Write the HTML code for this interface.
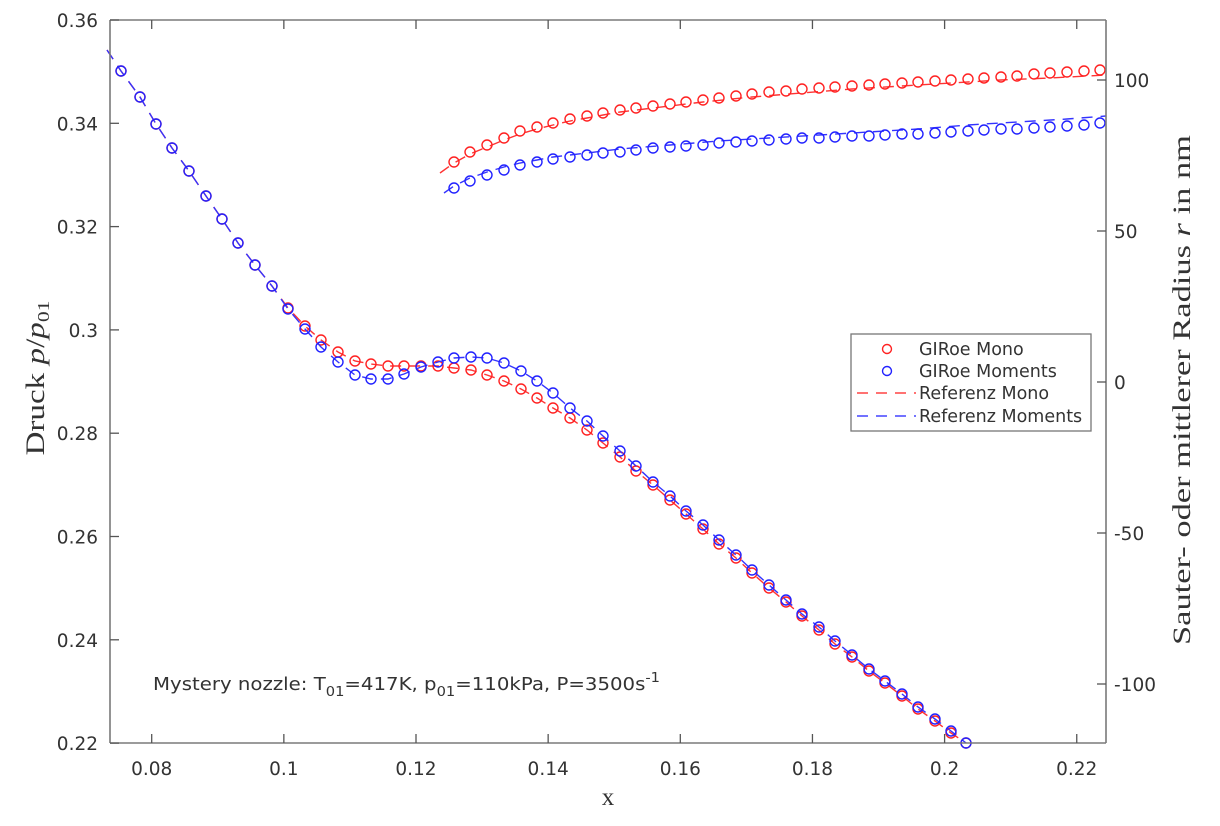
<!DOCTYPE html>
<html><head><meta charset="utf-8"><style>
body{margin:0;background:#fff;}
svg text{font-family:"DejaVu Sans","Liberation Sans",sans-serif;fill:#333;}
.serif{font-family:"Liberation Serif","DejaVu Serif",serif !important;}
</style></head><body>
<svg id="s" width="1220" height="821" xmlns="http://www.w3.org/2000/svg">
<rect width="1220" height="821" fill="#fff"/>
<g id="data"></g>
<g stroke="#7a7a7a" stroke-width="1.6" fill="none">
<line x1="110" y1="20" x2="110" y2="743"/>
<line x1="110" y1="743" x2="1106" y2="743"/>
<line x1="110" y1="20" x2="1106" y2="20"/>
<line x1="1106" y1="20" x2="1106" y2="743"/>
</g>
<g id="ticks" stroke="#555" stroke-width="1.3"></g>
<g id="labels" font-size="18.5"></g>
<text x="153" y="690" font-size="17.5" textLength="507" lengthAdjust="spacingAndGlyphs">Mystery nozzle: T<tspan font-size="13" dy="6">01</tspan><tspan dy="-6">=417K, p</tspan><tspan font-size="13" dy="6">01</tspan><tspan dy="-6">=110kPa, P=3500s</tspan><tspan font-size="13" dy="-8">-1</tspan></text>
<text class="serif" x="608" y="805" font-size="25" text-anchor="middle">x</text>
<text class="serif" font-size="26" text-anchor="middle" textLength="155" lengthAdjust="spacingAndGlyphs" transform="translate(44,378) rotate(-90)">Druck <tspan font-style="italic">p</tspan>/<tspan font-style="italic">p</tspan><tspan font-size="17" dy="5">01</tspan></text>
<text class="serif" font-size="25" text-anchor="middle" textLength="510" lengthAdjust="spacingAndGlyphs" transform="translate(1190,390) rotate(-90)">Sauter- oder mittlerer Radius <tspan font-style="italic">r</tspan> in nm</text>
<rect x="851" y="334" width="240" height="97" fill="#fff" stroke="#777" stroke-width="1.3"/>
<circle cx="887" cy="349" r="4.5" fill="none" stroke="#f22" stroke-width="1.4"/>
<circle cx="887" cy="371" r="4.5" fill="none" stroke="#22f" stroke-width="1.4"/>
<line x1="857" y1="393" x2="916" y2="393" stroke="#f44" stroke-width="1.4" stroke-dasharray="11,8"/>
<line x1="857" y1="416" x2="916" y2="416" stroke="#44f" stroke-width="1.4" stroke-dasharray="11,8"/>
<g font-size="17.5"><text x="919" y="355">GIRoe Mono</text><text x="919" y="377">GIRoe Moments</text><text x="919" y="399">Referenz Mono</text><text x="919" y="422">Referenz Moments</text></g>
</svg>
<script>
var NS="http://www.w3.org/2000/svg";
function el(p,t,a){var e=document.createElementNS(NS,t);for(var k in a)e.setAttribute(k,a[k]);if(t=="text"&&a.txt){e.textContent=a.txt;e.removeAttribute("txt");}p.appendChild(e);return e;}
var T=document.getElementById("ticks"),L=document.getElementById("labels"),D=document.getElementById("data");
var xt=[0.08,0.1,0.12,0.14,0.16,0.18,0.2,0.22];
xt.forEach(function(v,i){var x=151.7+i*132.15;el(T,"line",{x1:x,y1:743,x2:x,y2:734});el(T,"line",{x1:x,y1:20,x2:x,y2:29});el(L,"text",{x:x,y:775,"text-anchor":"middle",txt:String(v)});});
for(var i=0;i<=7;i++){var y=20+i*103.3;var v=(0.36-0.02*i);var s=(Math.round(v*100)/100).toString();el(T,"line",{x1:110,y1:y,x2:119,y2:y});el(L,"text",{x:98,y:y+7,"text-anchor":"end",txt:s});}
[100,50,0,-50,-100].forEach(function(v,i){var y=80+i*151;el(T,"line",{x1:1106,y1:y,x2:1097,y2:y});el(L,"text",{x:1114,y:y+7,txt:String(v)});});
var blueP=[[107,50],[121,71],[140,97],[156,124],[172,148],[189,171],[206,196],[222,219],[238,243],[255,265],[272,286],[288,309],[305,329],[321,347],[338,362],[355,375],[371,379],[388,379],[404,374],[421,367],[438,362],[454,358],[471,357],[487,358],[504,363],[521,371],[537,381],[553,393],[570,408],[587,421],[603,436],[620,451],[636,466],[653,482],[670,496],[686,511],[703,525],[719,540],[736,555],[752,570],[769,585],[786,600],[802,614],[819,627],[835,641],[852,655],[869,669],[885,681],[902,694],[918,707],[935,719],[951,731],[966,743]];
var redP=[[107,50],[121,71],[140,97],[156,124],[172,148],[189,171],[206,196],[222,219],[238,243],[255,265],[272,286],[288,308],[305,326],[321,340],[338,352],[355,361],[371,364],[388,366],[404,366],[421,366],[438,366],[454,368],[471,370],[487,375],[504,381],[521,389],[537,398],[553,408],[570,418],[587,430],[603,443],[620,457],[636,471],[653,485],[670,500],[686,514],[703,529],[719,544],[736,558],[752,573],[769,588],[786,602],[802,616],[819,630],[835,644],[852,657],[869,671],[885,683],[902,696],[918,709],[935,721],[951,733],[966,743]];
var redR=[[440,173],[454,163],[470,154],[487,147],[504,140],[520,134],[537,129],[553,125],[570,121],[587,118],[603,115],[620,112],[653,108],[703,102],[752,97],[802,93],[852,89],[902,86],[951,83],[1001,80],[1050,78],[1106,75]];
var redRc=[[454,162],[470,152],[487,145],[504,138],[520,131],[537,127],[553,123],[570,119],[587,116],[603,113],[620,110],[636,108],[653,106],[670,104],[686,102],[703,100],[719,98],[736,96],[752,94],[769,92],[786,91],[802,89],[819,88],[835,87],[852,86],[869,85],[885,84],[902,83],[918,82],[935,81],[951,80],[968,79],[984,78],[1001,77],[1017,76],[1034,74],[1050,73],[1067,72],[1084,71],[1100,70]];
var blueR=[[444,193],[454,186],[470,178],[487,172],[504,167],[520,163],[537,160],[553,157],[587,153],[620,149],[670,145],[719,141],[769,138],[819,135],[869,132],[918,129],[968,125],[1017,122],[1067,119],[1106,116]];
var blueRc=[[454,188],[470,181],[487,175],[504,170],[520,165],[537,162],[553,159],[570,157],[587,155],[603,153],[620,152],[636,150],[653,148],[670,147],[686,146],[703,145],[719,143],[736,142],[752,141],[769,140],[786,139],[802,138],[819,138],[835,137],[852,136],[869,136],[885,135],[902,134],[918,134],[935,133],[951,132],[968,131],[984,130],[1001,129],[1017,129],[1034,128],[1050,127],[1067,126],[1084,125],[1100,123]];
function line(pts,c){el(D,"polyline",{points:pts.map(function(p){return p.join(",")}).join(" "),fill:"none",stroke:c,"stroke-width":1.4,"stroke-dasharray":"11,8"});}
function circles(pts,c,skip){pts.forEach(function(p,i){if(skip&&i<skip)return;el(D,"circle",{cx:p[0],cy:p[1],r:5,fill:"none",stroke:c,"stroke-width":1.4});});}
line(redP,"#f33");line(redR,"#f33");
circles(redP,"#f22",1);circles(redRc,"#f22");
line(blueP,"#33f");line(blueR,"#33f");
circles(blueP,"#22f",1);circles(blueRc,"#22f");
</script>
</body></html>
